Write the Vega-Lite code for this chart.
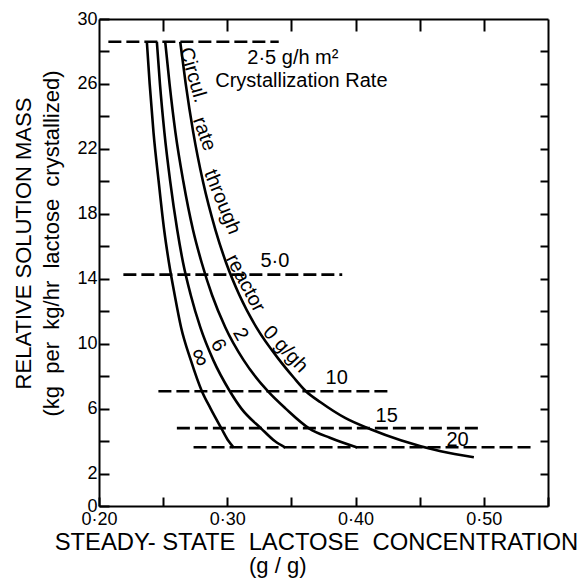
{
  "$schema": "https://vega.github.io/schema/vega-lite/v6.json",
  "autosize": {"type": "none"},
  "width": 449,
  "height": 487,
  "padding": {"left": 99, "top": 19, "right": 31, "bottom": 76},
  "background": "white",
  "config": {"view": {"stroke": null}, "font": "Liberation Sans"},
  "title": {"text": "(g / g)", "orient": "bottom", "anchor": "start", "frame": "group", "dx": 150, "offset": 2, "fontSize": 22, "font": "Liberation Sans", "fontWeight": "normal", "color": "black"},
  "datasets": {
    "curves": [
      {"curve": "inf", "x": 0.2373, "y": 28.6}, {"curve": "inf", "x": 0.2395, "y": 26}, {"curve": "inf", "x": 0.2425, "y": 23}, {"curve": "inf", "x": 0.2465, "y": 20}, {"curve": "inf", "x": 0.2508, "y": 17}, {"curve": "inf", "x": 0.2545, "y": 15}, {"curve": "inf", "x": 0.2590, "y": 13}, {"curve": "inf", "x": 0.2640, "y": 11}, {"curve": "inf", "x": 0.2715, "y": 9}, {"curve": "inf", "x": 0.2802, "y": 7.07}, {"curve": "inf", "x": 0.2870, "y": 6}, {"curve": "inf", "x": 0.2955, "y": 4.77}, {"curve": "inf", "x": 0.3010, "y": 4.0}, {"curve": "inf", "x": 0.3050, "y": 3.6},
      {"curve": "6", "x": 0.2451, "y": 28.6}, {"curve": "6", "x": 0.2475, "y": 26}, {"curve": "6", "x": 0.2510, "y": 23}, {"curve": "6", "x": 0.2555, "y": 20}, {"curve": "6", "x": 0.2610, "y": 17}, {"curve": "6", "x": 0.2655, "y": 15}, {"curve": "6", "x": 0.2715, "y": 13}, {"curve": "6", "x": 0.2790, "y": 11}, {"curve": "6", "x": 0.2890, "y": 9}, {"curve": "6", "x": 0.3020, "y": 7.07}, {"curve": "6", "x": 0.3110, "y": 6}, {"curve": "6", "x": 0.3265, "y": 4.77}, {"curve": "6", "x": 0.3370, "y": 4.0}, {"curve": "6", "x": 0.3453, "y": 3.6},
      {"curve": "2", "x": 0.2516, "y": 28.6}, {"curve": "2", "x": 0.2550, "y": 26}, {"curve": "2", "x": 0.2596, "y": 23}, {"curve": "2", "x": 0.2657, "y": 20}, {"curve": "2", "x": 0.2733, "y": 17}, {"curve": "2", "x": 0.2800, "y": 15}, {"curve": "2", "x": 0.2881, "y": 13}, {"curve": "2", "x": 0.2985, "y": 11}, {"curve": "2", "x": 0.3126, "y": 9}, {"curve": "2", "x": 0.3316, "y": 7.07}, {"curve": "2", "x": 0.3455, "y": 6}, {"curve": "2", "x": 0.3640, "y": 4.77}, {"curve": "2", "x": 0.3800, "y": 4.2}, {"curve": "2", "x": 0.4013, "y": 3.6},
      {"curve": "0", "x": 0.2633, "y": 28.6}, {"curve": "0", "x": 0.2676, "y": 26}, {"curve": "0", "x": 0.2735, "y": 23}, {"curve": "0", "x": 0.2810, "y": 20}, {"curve": "0", "x": 0.2908, "y": 17}, {"curve": "0", "x": 0.2990, "y": 15}, {"curve": "0", "x": 0.3094, "y": 13}, {"curve": "0", "x": 0.3227, "y": 11}, {"curve": "0", "x": 0.3405, "y": 9}, {"curve": "0", "x": 0.3516, "y": 7.93}, {"curve": "0", "x": 0.3613, "y": 7.07}, {"curve": "0", "x": 0.3727, "y": 6.39}, {"curve": "0", "x": 0.3922, "y": 5.41}, {"curve": "0", "x": 0.4117, "y": 4.73}, {"curve": "0", "x": 0.4352, "y": 4.05}, {"curve": "0", "x": 0.4664, "y": 3.37}, {"curve": "0", "x": 0.4922, "y": 3.0}
    ],
    "dashes": [
      {"rate": "2.5", "x1": 0.2073, "x2": 0.3401, "y": 28.6},
      {"rate": "5.0", "x1": 0.2190, "x2": 0.3896, "y": 14.25},
      {"rate": "10", "x1": 0.2463, "x2": 0.4260, "y": 7.07},
      {"rate": "15", "x1": 0.2607, "x2": 0.4971, "y": 4.8},
      {"rate": "20", "x1": 0.2737, "x2": 0.5393, "y": 3.62}
    ],
    "labels": [
      {"text": "2·5 g/h m²", "x": 0.3156, "y": 27.6},
      {"text": "Crystallization Rate", "x": 0.2906, "y": 26.2},
      {"text": "5·0", "x": 0.3258, "y": 15.1},
      {"text": "10", "x": 0.3766, "y": 7.9},
      {"text": "15", "x": 0.4156, "y": 5.53},
      {"text": "20", "x": 0.4708, "y": 4.05}
    ],
    "words": [
      {"text": "Circul.", "x": 0.2734, "y": 26.55},
      {"text": "rate", "x": 0.2820, "y": 22.92},
      {"text": "through", "x": 0.2961, "y": 18.73},
      {"text": "reactor", "x": 0.3141, "y": 13.73},
      {"text": "0 g/gh", "x": 0.3453, "y": 9.66},
      {"text": "∞", "x": 0.2789, "y": 9.17},
      {"text": "6", "x": 0.2930, "y": 9.9},
      {"text": "2", "x": 0.3102, "y": 10.58}
    ]
  },
  "resolve": {"axis": {"x": "independent", "y": "independent"}},
  "layer": [
    {
      "data": {"name": "curves"},
      "mark": {"type": "line", "color": "black", "strokeWidth": 2.6, "interpolate": "monotone"},
      "encoding": {
        "x": {"field": "x", "type": "quantitative", "scale": {"domain": [0.2, 0.55], "nice": false, "zero": false},
          "axis": {"orient": "bottom", "values": [0.2, 0.25, 0.3, 0.35, 0.4, 0.45, 0.5, 0.55],
            "labelExpr": "round(datum.value*100) % 10 == 0 && datum.value < 0.54 ? replace(format(datum.value, '.2f'), '.', '·') : ''",
            "grid": false, "tickSize": -9, "tickWidth": 2, "tickColor": "black", "domainColor": "black", "domainWidth": 2,
            "labelFont": "Liberation Sans", "labelFontSize": 18, "labelColor": "black", "labelPadding": 13, "labelOverlap": false, "labelFlush": false,
            "title": "STEADY- STATE\u00a0\u00a0LACTOSE\u00a0\u00a0CONCENTRATION", "titleFont": "Liberation Sans", "titleFontSize": 23.8, "titleFontWeight": "normal", "titleColor": "black",
            "titleX": 217, "titleY": 43, "titleBaseline": "alphabetic", "titleAlign": "center"}},
        "y": {"field": "y", "type": "quantitative", "scale": {"domain": [0, 30], "nice": false},
          "axis": {"orient": "left", "values": [0, 2, 4, 6, 8, 10, 12, 14, 16, 18, 20, 22, 24, 26, 28, 30],
            "labelExpr": "datum.value == 0 || (datum.value - 2) % 4 == 0 ? datum.label : ''",
            "grid": false, "tickSize": -10, "tickWidth": 2, "tickColor": "black", "domainColor": "black", "domainWidth": 2,
            "labelFont": "Liberation Sans", "labelFontSize": 18, "labelColor": "black", "labelPadding": 12, "labelOverlap": false, "labelFlush": false,
            "title": ["RELATIVE SOLUTION MASS", "(kg\u00a0\u00a0per\u00a0\u00a0kg/hr\u00a0\u00a0lactose\u00a0\u00a0crystallized)"], "titleFont": "Liberation Sans", "titleFontSize": 22, "titleFontWeight": "normal", "titleColor": "black",
            "titleAngle": -90, "titleX": -69, "titleY": 224, "titleBaseline": "alphabetic", "titleAlign": "center", "titleLineHeight": 28}},
        "detail": {"field": "curve", "type": "nominal"}
      }
    },
    {
      "data": {"name": "dashes"},
      "mark": {"type": "rule", "color": "black", "strokeWidth": 2.6, "strokeDash": [13, 5]},
      "encoding": {
        "x": {"field": "x1", "type": "quantitative",
          "axis": {"orient": "top", "values": [0.25, 0.3, 0.35, 0.4, 0.45, 0.5], "labels": false, "title": null, "grid": false,
            "tickSize": -12, "tickWidth": 2, "tickColor": "black", "domainColor": "black", "domainWidth": 2}},
        "x2": {"field": "x2"},
        "y": {"field": "y", "type": "quantitative",
          "axis": {"orient": "right", "values": [2, 4, 6, 8, 10, 12, 14, 16, 18, 20, 22, 24, 26, 28], "labels": false, "title": null, "grid": false,
            "tickSize": -8, "tickWidth": 2, "tickColor": "black", "domainColor": "black", "domainWidth": 2}}
      }
    },
    {
      "data": {"name": "labels"},
      "mark": {"type": "text", "align": "left", "baseline": "middle", "font": "Liberation Sans", "fontSize": 20, "color": "black"},
      "encoding": {
        "x": {"field": "x", "type": "quantitative", "axis": null},
        "y": {"field": "y", "type": "quantitative", "axis": null},
        "text": {"field": "text"}
      }
    },
    {
      "data": {"name": "words"},
      "transform": [{"filter": "datum.text == 'Circul.'"}],
      "mark": {"type": "text", "align": "center", "baseline": "middle", "font": "Liberation Sans", "fontSize": 20, "color": "black", "angle": 74},
      "encoding": {"x": {"field": "x", "type": "quantitative", "axis": null}, "y": {"field": "y", "type": "quantitative", "axis": null}, "text": {"field": "text"}}
    },
    {
      "data": {"name": "words"},
      "transform": [{"filter": "datum.text == 'rate'"}],
      "mark": {"type": "text", "align": "center", "baseline": "middle", "font": "Liberation Sans", "fontSize": 20, "color": "black", "angle": 70},
      "encoding": {"x": {"field": "x", "type": "quantitative", "axis": null}, "y": {"field": "y", "type": "quantitative", "axis": null}, "text": {"field": "text"}}
    },
    {
      "data": {"name": "words"},
      "transform": [{"filter": "datum.text == 'through'"}],
      "mark": {"type": "text", "align": "center", "baseline": "middle", "font": "Liberation Sans", "fontSize": 20, "color": "black", "angle": 68},
      "encoding": {"x": {"field": "x", "type": "quantitative", "axis": null}, "y": {"field": "y", "type": "quantitative", "axis": null}, "text": {"field": "text"}}
    },
    {
      "data": {"name": "words"},
      "transform": [{"filter": "datum.text == 'reactor'"}],
      "mark": {"type": "text", "align": "center", "baseline": "middle", "font": "Liberation Sans", "fontSize": 20, "color": "black", "angle": 62},
      "encoding": {"x": {"field": "x", "type": "quantitative", "axis": null}, "y": {"field": "y", "type": "quantitative", "axis": null}, "text": {"field": "text"}}
    },
    {
      "data": {"name": "words"},
      "transform": [{"filter": "datum.text == '0 g/gh'"}],
      "mark": {"type": "text", "align": "center", "baseline": "middle", "font": "Liberation Sans", "fontSize": 20, "color": "black", "angle": 47},
      "encoding": {"x": {"field": "x", "type": "quantitative", "axis": null}, "y": {"field": "y", "type": "quantitative", "axis": null}, "text": {"field": "text"}}
    },
    {
      "data": {"name": "words"},
      "transform": [{"filter": "datum.text == '∞'"}],
      "mark": {"type": "text", "align": "center", "baseline": "middle", "font": "Liberation Sans", "fontSize": 25, "color": "black", "angle": 68},
      "encoding": {"x": {"field": "x", "type": "quantitative", "axis": null}, "y": {"field": "y", "type": "quantitative", "axis": null}, "text": {"field": "text"}}
    },
    {
      "data": {"name": "words"},
      "transform": [{"filter": "datum.text == '6' || datum.text == '2'"}],
      "mark": {"type": "text", "align": "center", "baseline": "middle", "font": "Liberation Sans", "fontSize": 20, "color": "black", "angle": 60},
      "encoding": {"x": {"field": "x", "type": "quantitative", "axis": null}, "y": {"field": "y", "type": "quantitative", "axis": null}, "text": {"field": "text"}}
    }
  ]
}
